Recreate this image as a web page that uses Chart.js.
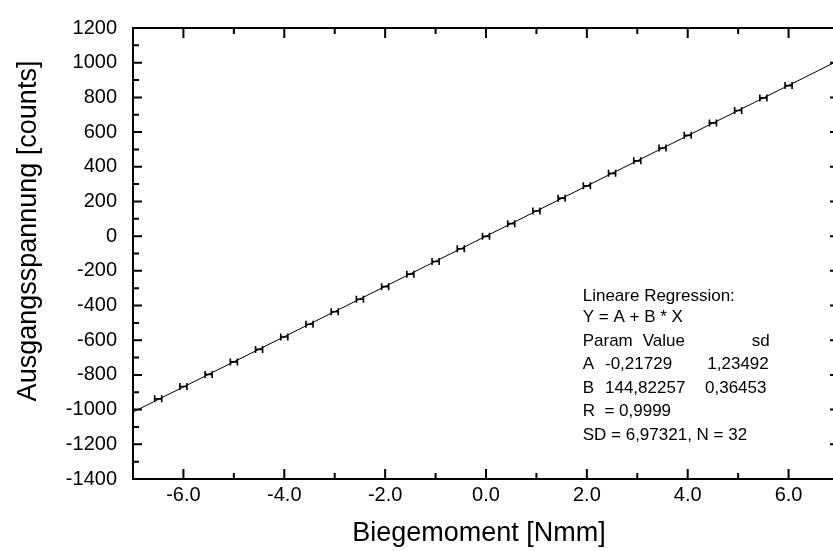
<!DOCTYPE html>
<html>
<head>
<meta charset="utf-8">
<script src="https://cdn.jsdelivr.net/npm/chart.js"></script>
<style>
  html, body { margin: 0; padding: 0; background: #fff; overflow: hidden; }
  #wrap { width: 833px; height: 551px; overflow: hidden; }
  canvas { display: block; }
</style>
</head>
<body>
<div id="wrap"><canvas id="chart" width="845" height="551"></canvas></div>
<script>
// measured points (Biegemoment vs Ausgangsspannung)
const moment = [-6.5, -6.0, -5.5, -5.0, -4.5, -4.0, -3.5, -3.0, -2.5, -2.0, -1.5, -1.0, -0.5,
                0.0, 0.5, 1.0, 1.5, 2.0, 2.5, 3.0, 3.5, 4.0, 4.5, 5.0, 5.5, 6.0];
const counts = [-938, -867, -797, -725, -653, -581, -508, -436, -364, -291, -219, -146, -73,
                -1, 72, 145, 219, 290, 362, 434, 508, 581, 653, 724, 797, 868];
const momentErr = [0.07, 0.07, 0.07, 0.07, 0.07, 0.07, 0.07, 0.07, 0.07, 0.07, 0.07, 0.07, 0.07,
                   0.07, 0.07, 0.07, 0.07, 0.07, 0.07, 0.07, 0.07, 0.07, 0.07, 0.07, 0.07, 0.07];

// regression line ends
const fitX = [-7.0, 7.0];
const fitY = [-1014, 1014];

const xMajor = [-6, -4, -2, 0, 2, 4, 6];
const xMinor = [-7, -5, -3, -1, 1, 3, 5, 7];
const yMajor = [-1400, -1200, -1000, -800, -600, -400, -200, 0, 200, 400, 600, 800, 1000, 1200];
const yMinor = [-1300, -1100, -900, -700, -500, -300, -100, 100, 300, 500, 700, 900, 1100];

const regText = [
  ['Lineare Regression:'],
  ['Y = A + B * X'],
  ['Param', 'Value', 'sd'],
  ['A', '-0,21729', '1,23492'],
  ['B', '144,82257', '0,36453'],
  ['R  = 0,9999'],
  ['SD = 6,97321, N = 32']
];

const FONT = '"Liberation Sans", Arial, sans-serif';

const frameTicks = {
  id: 'frameTicks',
  afterDatasetsDraw(chart) {
    const { ctx, chartArea: a, scales: { x, y } } = chart;
    ctx.save();
    ctx.strokeStyle = '#000';
    ctx.lineWidth = 2;
    ctx.strokeRect(a.left, a.top, a.right - a.left, a.bottom - a.top);
    const tick = (vals, len) => {
      vals.forEach(v => {
        const px = x.getPixelForValue(v);
        ctx.beginPath();
        ctx.moveTo(px, a.bottom); ctx.lineTo(px, a.bottom - len);
        ctx.moveTo(px, a.top); ctx.lineTo(px, a.top + len);
        ctx.stroke();
      });
    };
    const ytick = (vals, len) => {
      vals.forEach(v => {
        const py = y.getPixelForValue(v);
        ctx.beginPath();
        ctx.moveTo(a.left, py); ctx.lineTo(a.left + len, py);
        ctx.moveTo(a.right, py); ctx.lineTo(a.right - len, py);
        ctx.stroke();
      });
    };
    tick(xMajor, 10); tick(xMinor, 6);
    ytick(yMajor, 9); ytick(yMinor, 6);

    // horizontal error bars
    ctx.lineWidth = 1.6;
    moment.forEach((m, i) => {
      const py = y.getPixelForValue(counts[i]);
      const x0 = x.getPixelForValue(m - momentErr[i]);
      const x1 = x.getPixelForValue(m + momentErr[i]);
      ctx.beginPath();
      ctx.moveTo(x0, py); ctx.lineTo(x1, py);
      ctx.moveTo(x0, py - 3.5); ctx.lineTo(x0, py + 3.5);
      ctx.moveTo(x1, py - 3.5); ctx.lineTo(x1, py + 3.5);
      ctx.stroke();
    });

    // axis titles
    ctx.fillStyle = '#000';
    ctx.font = '27px ' + FONT;
    ctx.textAlign = 'center';
    ctx.textBaseline = 'alphabetic';
    ctx.fillText('Biegemoment [Nmm]', 479, 541);
    ctx.save();
    ctx.translate(36, 231);
    ctx.rotate(-Math.PI / 2);
    ctx.fillText('Ausgangsspannung [counts]', 0, 0);
    ctx.restore();

    // regression box
    ctx.font = '17px ' + FONT;
    ctx.textAlign = 'left';
    const baselines = [300.5, 322, 345.5, 369, 392.5, 416, 439.5];
    const cols = [[582.7], [582.7], [582.7, 642.7, 751.7], [582.7, 605, 707.3], [582.7, 605, 705], [582.7], [582.7]];
    regText.forEach((row, r) => {
      row.forEach((txt, c) => ctx.fillText(txt, cols[r][c], baselines[r]));
    });
    ctx.restore();
  }
};

new Chart(document.getElementById('chart'), {
  type: 'scatter',
  data: {
    datasets: [
      {
        data: moment.map((m, i) => ({ x: m, y: counts[i] })),
        pointRadius: 0,
        showLine: false
      },
      {
        data: fitX.map((v, i) => ({ x: v, y: fitY[i] })),
        showLine: true,
        borderColor: '#000',
        borderWidth: 1,
        pointRadius: 0
      }
    ]
  },
  options: {
    responsive: false,
    animation: false,
    layout: { padding: { top: 19, right: 6, left: 0, bottom: 0 } },
    plugins: { legend: { display: false }, tooltip: { enabled: false } },
    scales: {
      x: {
        type: 'linear', min: -7, max: 7,
        grid: { display: false, drawTicks: false },
        border: { display: false },
        afterFit(s) { s.height = 72; },
        afterBuildTicks(s) { s.ticks = xMajor.map(v => ({ value: v })); },
        ticks: {
          color: '#000', padding: 4, maxRotation: 0,
          font: { family: FONT, size: 20 },
          callback: v => v.toFixed(1)
        }
      },
      y: {
        type: 'linear', min: -1400, max: 1200,
        grid: { display: false, drawTicks: false },
        border: { display: false },
        afterFit(s) { s.width = 133; },
        afterBuildTicks(s) { s.ticks = yMajor.map(v => ({ value: v })); },
        ticks: {
          color: '#000', padding: 16,
          font: { family: FONT, size: 20 },
          callback: v => String(v)
        }
      }
    }
  },
  plugins: [frameTicks]
});
</script>
</body>
</html>
